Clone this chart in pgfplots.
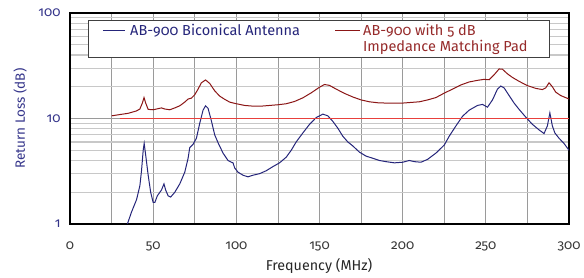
\documentclass[border=0pt]{standalone}
\usepackage{fontspec}
\setmainfont{Fira Sans}[Numbers=OldStyle]
\usepackage{pgfplots}
\pgfplotsset{compat=1.18}
\definecolor{navyc}{HTML}{25257A}
\definecolor{labblue}{HTML}{34348A}
\definecolor{darkredc}{HTML}{8B1616}
\definecolor{legred}{HTML}{962A2A}
\definecolor{redline}{HTML}{E8403C}
\definecolor{gridg}{HTML}{9A9A9A}
\definecolor{gridl}{HTML}{C8C8C8}
\begin{document}
\begin{tikzpicture}
\begin{axis}[
  at={(0,0)}, anchor=south west,
  scale only axis, width=499pt, height=211pt,
  xmin=0, xmax=300, ymode=log, ymin=1, ymax=100,
  xtick={0,25,...,300},
  xticklabels={0,,50,,100,,150,,200,,250,,300},
  ytick={1,10,100}, yticklabels={1,10,100},
  grid=both,
  major grid style={gridg, line width=0.8pt},
  minor grid style={gridl, line width=1.2pt},
  major tick length=0pt, minor tick length=0pt,
  axis line style={black, line width=1.1pt},
  /pgf/number format/assume math mode=true,
  tick label style={font=\fontsize{13.5}{15}\selectfont},
  yticklabel style={text=labblue, xshift=-6pt},
  xticklabel style={text=black!78, yshift=-14pt},
  xlabel={Frequency (MHz)},
  ylabel={Return Loss (dB)},
  xlabel style={font=\fontsize{14.3}{17}\selectfont, text=black!85, at={(axis description cs:0.499,-0.2)}, anchor=center},
  ylabel style={font=\fontsize{13.5}{15}\selectfont, text=labblue, at={(axis description cs:-0.1,0.5)}, anchor=center},
]
\addplot[navyc, line width=1pt] coordinates {
(34.5,1)(37,1.3)(40,1.7)(42,2.3)(43,3.2)(44,5)(44.6,5.8)(45.5,4.5)(47,2.9)(48.5,2.0)(50,1.6)(51,1.6)(52.5,1.85)(55,2.1)(56.5,2.4)(57.5,2.1)(59,1.85)(60.5,1.8)(63,2.0)(66,2.4)(69,3.1)(71,4.2)(72,5.3)(74,5.7)(76,6.5)(78,9)(80,12)(81.5,13.2)(83,12.5)(85,9.5)(87,7)(89,5.9)(92,4.7)(95,4.0)(97,3.85)(98,3.8)(99,3.4)(101,3.1)(104,2.9)(107,2.8)(110,2.9)(114,3.0)(118,3.2)(122,3.5)(126,3.8)(130,4.3)(133,5.0)(136,6)(140,7.3)(144,8.8)(148,10.2)(152,11)(155,10.6)(158,9.4)(161,8.1)(164,6.8)(167,6.0)(170,5.5)(174,4.8)(178,4.4)(182,4.2)(186,4.0)(190,3.9)(195,3.8)(200,3.85)(204,4.0)(207,3.9)(211,3.85)(215,4.1)(220,4.7)(225,5.6)(228,6.8)(232,8.5)(236,10.5)(240,12)(245,13.3)(248,13.6)(251,12.8)(254,15)(257,19)(259,20.3)(261,19.5)(264,16.5)(267,14)(270,12.2)(274,10.3)(278,8.8)(282,7.8)(285,7.2)(287,8.5)(288.5,11.3)(290,8.5)(291.5,7.3)(294,6.5)(297,5.8)(300,5.0)
};
\addplot[darkredc, line width=1pt] coordinates {
(25,10.6)(30,10.9)(35,11.2)(40,11.8)(42,12.3)(43.5,14)(44.5,15.8)(45.5,14)(47,12.2)(50,12.1)(53,12.4)(55,12.6)(57,12.3)(60,12.1)(63,12.6)(66,13.2)(69,14.3)(71,15.3)(73,15.6)(75,16.8)(77,19)(79,21.8)(81.5,23.2)(84,21.5)(87,18.3)(90,16.3)(93,15.2)(96,14.3)(100,13.8)(105,13.3)(110,13.1)(115,13.1)(120,13.3)(125,13.5)(130,13.8)(135,14.5)(140,15.7)(145,17.5)(150,19.8)(153,21)(156,20.6)(160,19)(165,17.3)(170,16)(175,15)(180,14.4)(185,14.1)(190,14)(195,14)(200,14)(205,14.2)(210,14.4)(215,15)(220,15.8)(225,17.4)(230,19)(235,20.8)(240,22.2)(245,23)(249,23.5)(252,23.3)(255,26)(258,29.5)(260,29.3)(263,26.5)(266,24.5)(270,22.5)(275,20.5)(280,19.3)(284,18.8)(286,19.5)(288,21.8)(290,20)(292,17.8)(295,16.5)(300,15.3)
};
\addplot[redline, line width=1pt] coordinates {(30,10)(300,10)};
\end{axis}
% legend
\draw[black!75, line width=0.9pt, fill=white] (18pt,204pt) rectangle (479pt,167pt);
\draw[navyc, line width=0.9pt] (33pt,194pt) -- (55pt,194pt);
\node[anchor=base west, inner sep=0pt, text=navyc, font=\fontsize{14.5}{17}\selectfont] at (60pt,188.5pt) {AB-900 Biconical Antenna};
\draw[darkredc, line width=0.9pt] (265pt,194pt) -- (290pt,194pt);
\node[anchor=base west, inner sep=0pt, text=legred, font=\fontsize{14.5}{17}\selectfont] at (293pt,188.5pt) {AB-900 with 5 dB};
\node[anchor=base west, inner sep=0pt, text=legred, font=\fontsize{14.5}{17}\selectfont] at (293pt,172.5pt) {Impedance Matching Pad};
\path (-70pt,-50pt) rectangle (514pt,224pt);
\end{tikzpicture}
\end{document}
